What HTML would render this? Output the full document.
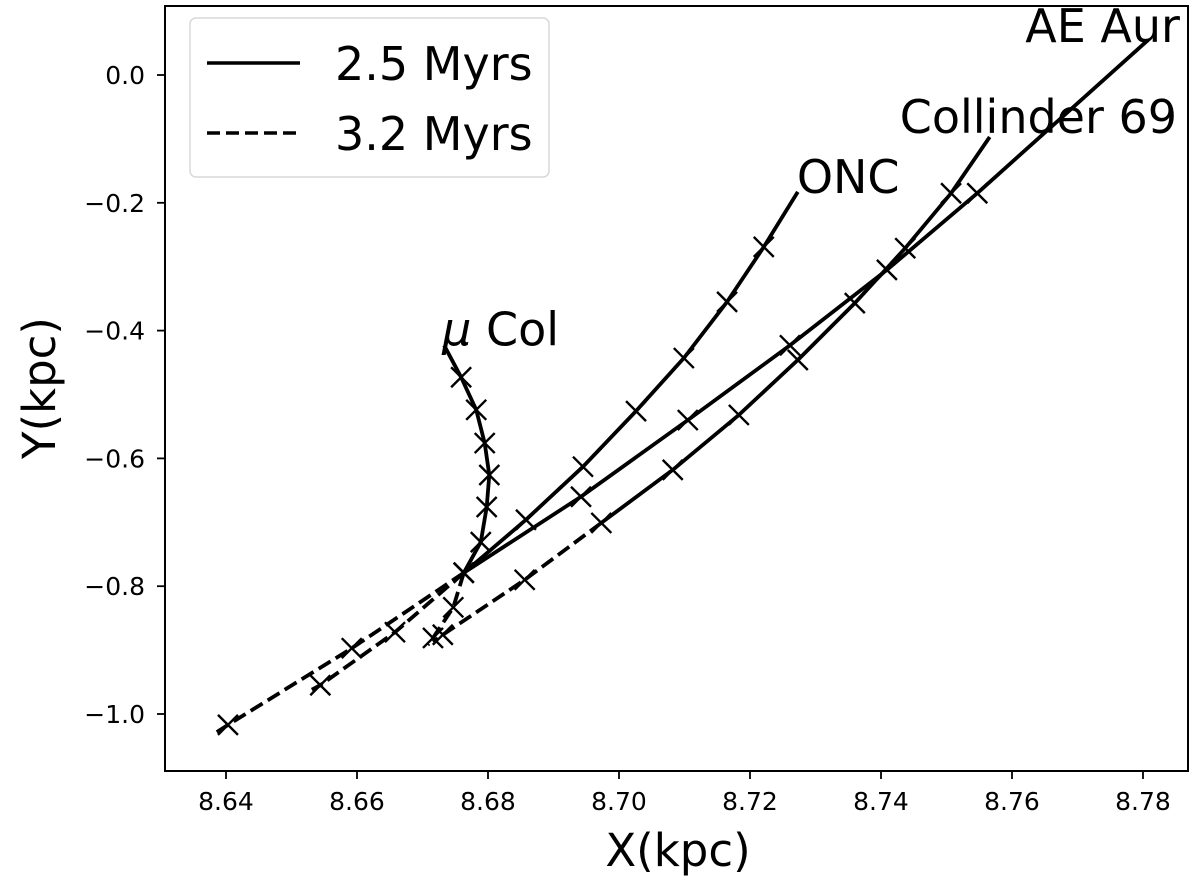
<!DOCTYPE html>
<html><head><meta charset="utf-8"><style>
html,body{margin:0;padding:0;background:#fff;}
svg{display:block;font-family:"DejaVu Sans","Liberation Sans",sans-serif;}
</style></head><body>
<svg id="chart" width="1200" height="880" viewBox="0 0 1200 880" xmlns="http://www.w3.org/2000/svg">
<rect x="0" y="0" width="1200" height="880" fill="#fff"/>
<g id="plot"></g>
<g id="axes"></g>
<text x="678" y="866" font-size="45" text-anchor="middle">X(kpc)</text>
<text transform="translate(55,388) rotate(-90)" font-size="45" text-anchor="middle">Y(kpc)</text>
<g>
<rect x="190" y="18" width="359" height="159" rx="6" fill="#fff" fill-opacity="0.8" stroke="#d8d8d8" stroke-width="1.5"/>
<line x1="207" y1="63" x2="300" y2="63" stroke="#000" stroke-width="3.5"/>
<text x="335" y="80" font-size="46">2.5 Myrs</text>
<line x1="207" y1="133" x2="300" y2="133" stroke="#000" stroke-width="3.5" stroke-dasharray="13,6"/>
<text x="335" y="150" font-size="46">3.2 Myrs</text>
</g>
</svg>
<script>
const xTicks = [8.64, 8.66, 8.68, 8.70, 8.72, 8.74, 8.76, 8.78];
const xTickLabels = ["8.64", "8.66", "8.68", "8.70", "8.72", "8.74", "8.76", "8.78"];
const yTicks = [0.0, -0.2, -0.4, -0.6, -0.8, -1.0];
const yTickLabels = ["0.0", "\u22120.2", "\u22120.4", "\u22120.6", "\u22120.8", "\u22121.0"];

const trackNames = ["ONC", "AE Aur", "Collinder 69", "\u03bc Col"];
const oncX = [8.7273, 8.7221, 8.7165, 8.7099, 8.7026, 8.6945, 8.6858, 8.6763, 8.6658, 8.6544, 8.6531];
const oncY = [-0.183, -0.269, -0.355, -0.443, -0.526, -0.613, -0.696, -0.779, -0.872, -0.955, -0.962];
const oncSolidEnd = 7;
const aeX = [8.7808, 8.7547, 8.7409, 8.7261, 8.7105, 8.6942, 8.6763, 8.6592, 8.6403, 8.6379];
const aeY = [0.055, -0.185, -0.305, -0.423, -0.540, -0.660, -0.779, -0.897, -1.017, -1.033];
const aeSolidEnd = 6;
const colX = [8.7566, 8.7507, 8.7437, 8.7360, 8.7273, 8.7183, 8.7082, 8.6973, 8.6856, 8.6731, 8.6716];
const colY = [-0.097, -0.185, -0.271, -0.357, -0.446, -0.532, -0.618, -0.701, -0.790, -0.876, -0.887];
const colSolidEnd = 7;
const muX = [8.6733, 8.6759, 8.6782, 8.6795, 8.6802, 8.6798, 8.6789, 8.6763, 8.6747, 8.6716, 8.6708];
const muY = [-0.423, -0.473, -0.524, -0.576, -0.626, -0.676, -0.731, -0.779, -0.833, -0.881, -0.892];
const muSolidEnd = 7;

const NS = "http://www.w3.org/2000/svg";
const L = 165, R = 1188, T = 6, B = 771;
function xs(v) { return 226 + (v - 8.64) / 0.02 * 131; }
function ys(v) { return 75 - v / 0.2 * 127.8; }
function mk(tag, attrs, parent) {
  const e = document.createElementNS(NS, tag);
  for (const k in attrs) e.setAttribute(k, attrs[k]);
  parent.appendChild(e);
  return e;
}
const axes = document.getElementById('axes');
const plot = document.getElementById('plot');

const frame = mk('rect', {x: L, y: T, width: R - L, height: B - T, fill: 'none', stroke: '#000', 'stroke-width': 2}, axes);



xTicks.forEach((v, i) => {
  const px = xs(v);
  const t = mk('line', {x1: px, y1: B, x2: px, y2: B + 8, stroke: '#000', 'stroke-width': 1.8}, axes);
  
  
  const lb = mk('text', {x: px, y: B + 39, 'font-size': 25, 'text-anchor': 'middle'}, axes);
  lb.textContent = xTickLabels[i];
  
  
});
yTicks.forEach((v, i) => {
  const py = ys(v);
  const t = mk('line', {x1: L - 8, y1: py, x2: L, y2: py, stroke: '#000', 'stroke-width': 1.8}, axes);
  
  
  const lb = mk('text', {x: L - 20, y: py + 9, 'font-size': 25, 'text-anchor': 'end'}, axes);
  lb.textContent = yTickLabels[i];
  
  
});

function pts(X, Y, a, b) {
  const out = [];
  for (let i = a; i <= b; i++) out.push(xs(X[i]).toFixed(1) + ',' + ys(Y[i]).toFixed(1));
  return out.join(' ');
}
function drawTrack(name, X, Y, se) {
  const g = mk('g', {}, plot);
  
  
  const s = mk('polyline', {points: pts(X, Y, 0, se), fill: 'none', stroke: '#000', 'stroke-width': 3.8, 'stroke-linejoin': 'round'}, g);
  
  
  const d = mk('polyline', {points: pts(X, Y, se, X.length - 1), fill: 'none', stroke: '#000', 'stroke-width': 3.8, 'stroke-dasharray': '14,6'}, g);
  
  
  for (let i = 1; i < X.length - 1; i++) {
    const cx = xs(X[i]), cy = ys(Y[i]), h = 10;
    const m = mk('path', {d: `M${cx-h},${cy-h}L${cx+h},${cy+h}M${cx-h},${cy+h}L${cx+h},${cy-h}`, stroke: '#000', 'stroke-width': 2.4}, g);
    
    
  }
}
drawTrack(trackNames[0], oncX, oncY, oncSolidEnd);
drawTrack(trackNames[1], aeX, aeY, aeSolidEnd);
drawTrack(trackNames[2], colX, colY, colSolidEnd);
drawTrack(trackNames[3], muX, muY, muSolidEnd);

const labelData = [
  {t: "AE Aur", x: aeX[0], y: aeY[0], dx: -123, dy: 2, n: 'label-ae-aur'},
  {t: "Collinder 69", x: colX[0], y: colY[0], dx: -90, dy: -4, n: 'label-collinder-69'},
  {t: "ONC", x: oncX[0], y: oncY[0], dx: -1, dy: 1, n: 'label-onc'},
];
labelData.forEach(o => {
  const e = mk('text', {x: xs(o.x) + o.dx, y: ys(o.y) + o.dy, 'font-size': 46}, plot);
  e.textContent = o.t;
  
  
});
const mu = mk('text', {x: xs(muX[0]) - 2, y: ys(muY[0]) + 0, 'font-size': 46}, plot);
mu.innerHTML = '<tspan font-style="italic">\u03bc</tspan> Col';


</script>
</body></html>
